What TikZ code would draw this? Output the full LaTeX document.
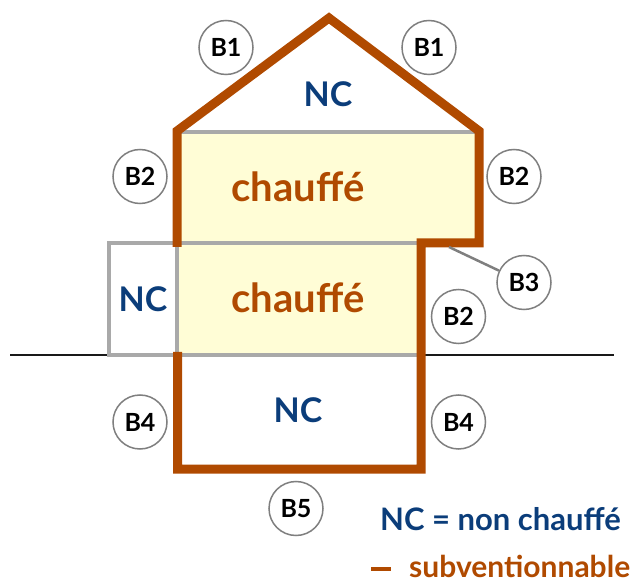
\documentclass[tikz,border=0pt]{standalone}
\usepackage{fontspec}
\setmainfont{Lato}
\definecolor{wallred}{HTML}{B04A00}
\definecolor{ncblue}{HTML}{0B3D7A}
\definecolor{warmfill}{HTML}{FFFDD6}
\definecolor{partition}{HTML}{A9A9A9}
\definecolor{ringgrey}{HTML}{7F7F7F}
\tikzset{
  wall/.style={draw=wallred,line width=9pt,line join=miter,line cap=butt},
  inner wall/.style={draw=partition,line width=4pt},
  ground/.style={draw=black!90,line width=2pt},
  tag/.style={circle,draw=ringgrey,line width=1.5pt,fill=white,minimum size=54pt,inner sep=0pt,font=\fontsize{25}{25}\selectfont\bfseries,text=black},
  nc/.style={font=\fontsize{34}{34}\selectfont\bfseries,text=ncblue,inner sep=0pt},
  warm/.style={font=\fontsize{40}{40}\selectfont\bfseries,text=wallred,inner sep=0pt},
  legend/.style={font=\fontsize{31}{31}\selectfont\bfseries,inner sep=0pt,anchor=base west}
}
\begin{document}
\begin{tikzpicture}[x=1pt,y=-1pt]
\useasboundingbox (0,0) rectangle (638,580);
% heated zones
\fill[warmfill] (177,132) rectangle (479,243);
\fill[warmfill] (177,243) rectangle (420,356);
% ground line
\coordinate (gl1) at (10,355.5);
\coordinate (gl2) at (108,355.5);
\coordinate (gr1) at (421,355.5);
\coordinate (gr2) at (614,355.5);
\draw[ground] (gl1) -- (gl2);
\draw[ground] (gr1) -- (gr2);
% partitions
\draw[inner wall] (177,132) -- (479,132);
\draw[inner wall] (421,243.5) -- (108.5,243.5) -- (108.5,355.5) -- (421,355.5);
\draw[inner wall] (177,243) -- (177,356);
% thermal envelope
\draw[wall] (177,247) -- (177,131) -- (329,18) -- (479,131) -- (479,243) -- (421,243) -- (421,469) -- (177.5,469) -- (177.5,352);
% labels
\node[nc] (nc1) at (328,94) {NC};
\node[nc] (nc2) at (143,299) {NC};
\node[nc] (nc3) at (298,410) {NC};
\node[warm] (ch1) at (298,187) {chauffé};
\node[warm] (ch2) at (298,298) {chauffé};
% tags
\node[tag] (b1l) at (226,47.5) {B1};
\node[tag] (b1r) at (429,47.5) {B1};
\node[tag] (b2l) at (140,176.5) {B2};
\node[tag] (b2r) at (514,176.5) {B2};
\node[tag] (b2b) at (458.5,316.5) {B2};
\node[tag] (b3) at (524,282.5) {B3};
\node[tag] (b4l) at (140,422) {B4};
\node[tag] (b4r) at (458.5,422) {B4};
\node[tag] (b5) at (296,508.5) {B5};
\coordinate (b3end) at (449,247);
\draw[draw=ringgrey,line width=2.5pt] (b3) -- (b3end);
% legend
\node[legend,text=ncblue] (leg1) at (380,530) {NC = non chauffé};
\coordinate (dash1) at (371,569);
\coordinate (dash2) at (391,569);
\draw[draw=wallred,line width=4pt] (dash1) -- (dash2);
\node[legend,text=wallred,font=\fontsize{30}{30}\selectfont\bfseries] (leg2) at (409,577) {subventionnable};
\end{tikzpicture}
\end{document}
